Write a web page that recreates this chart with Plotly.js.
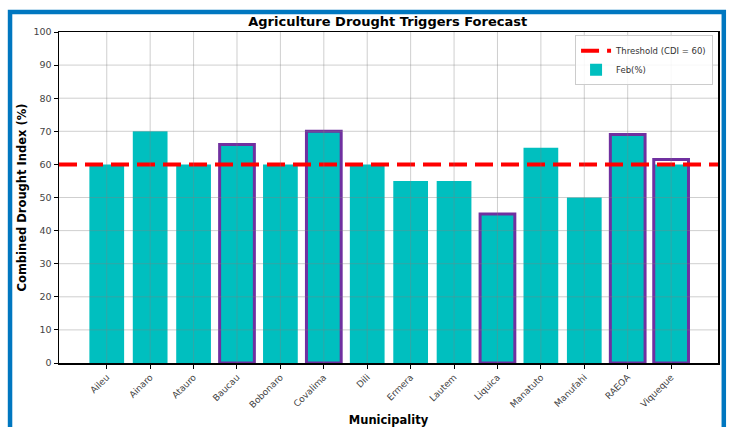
<!DOCTYPE html>
<html>
<head>
<meta charset="utf-8">
<script src="https://cdn.plot.ly/plotly-3.0.1.min.js"></script>
<style>html,body{margin:0;padding:0;background:#fff;}#chart{width:731px;height:427px;}</style>
</head>
<body>
<div id="chart"></div>
<script>
const municipalities = ["Aileu","Ainaro","Atauro","Baucau","Bobonaro","Covalima","Dili","Ermera","Lautem","Liquica","Manatuto","Manufahi","RAEOA","Viqueque"];
const febValues = [60,70,60,66,60,70,60,55,55,45,65,50,69,60];
const highlightValues = [null,null,null,66,null,70,null,null,null,45,null,null,69,61.5];
const threshold = 60;
const yTicks = [0,10,20,30,40,50,60,70,80,90,100];

const gridColor = "rgba(128,128,128,0.38)";
const shapes = [];
// blue frame
shapes.push({type:"rect", xref:"paper", yref:"paper", x0:-0.0743, x1:1.0088, y0:-0.3, y1:1.0604,
  line:{color:"#0077C0", width:4.5}, fillcolor:"rgba(0,0,0,0)", layer:"below"});
// grid lines drawn above bars
municipalities.forEach(m => shapes.push({type:"line", xref:"x", yref:"paper", x0:m, x1:m, y0:0, y1:1,
  line:{color:gridColor, width:1}, layer:"above"}));
yTicks.filter(t => t > 0 && t < 100 && t !== threshold).forEach(t => shapes.push({type:"line", xref:"paper", yref:"y", x0:0, x1:1, y0:t, y1:t,
  line:{color:gridColor, width:1}, layer:"above"}));

const traces = [
  {type:"scatter", mode:"lines", x:[0,1], y:[threshold,threshold], xaxis:"x2", yaxis:"y",
   name:"Threshold (CDI = 60)", line:{color:"#FF0000", width:4, dash:"18px,8px"}, hoverinfo:"skip"},
  {type:"bar", x:municipalities, y:febValues, name:"Feb(%)", width:0.8,
   marker:{color:"#00BFBF", line:{width:0}}},
  {type:"bar", x:municipalities, y:highlightValues, name:"highlight", width:0.8, showlegend:false,
   marker:{color:"rgba(0,0,0,0)", line:{color:"#7030A0", width:3}}}
];

const layout = {
  width:731, height:427,
  margin:{l:59, r:13, t:32, b:64},
  paper_bgcolor:"#ffffff", plot_bgcolor:"#ffffff",
  barmode:"overlay",
  font:{family:"DejaVu Sans", size:9, color:"#333"},
  title:{text:"<b>Agriculture Drought Triggers Forecast</b>", font:{family:"DejaVu Sans", size:13, color:"#000"},
    x:0.5304, xanchor:"center", y:0.949, yanchor:"middle"},
  xaxis:{type:"category", categoryorder:"array", categoryarray:municipalities, range:[-1.1,14.08],
    showgrid:false, zeroline:false, showline:true, mirror:true, linecolor:"#000", linewidth:1.5,
    ticks:"outside", ticklen:4, tickcolor:"#000", tickangle:-45, tickfont:{size:9, color:"#444"},
    automargin:false,
    title:{text:"<b>Municipality</b>", font:{size:11.5, color:"#000"}, standoff:9}},
  xaxis2:{overlaying:"x", range:[0,1], visible:false, showgrid:false, zeroline:false},
  yaxis:{range:[0,100], tickvals:yTicks, showgrid:false, zeroline:false, showline:true, mirror:true,
    linecolor:"#000", linewidth:1.5, ticks:"outside", ticklen:4, tickcolor:"#000",
    tickfont:{size:9.5, color:"#444"}, automargin:false,
    title:{text:"<b>Combined Drought Index (%)</b>", font:{size:11.5, color:"#000"}, standoff:4}},
  legend:{x:0.9925, xanchor:"right", y:0.99, yanchor:"top", bgcolor:"rgba(255,255,255,0.85)",
    bordercolor:"#cccccc", borderwidth:1, font:{size:8.5, color:"#333"}, tracegroupgap:0},
  showlegend:true,
  shapes:shapes
};

Plotly.newPlot("chart", traces, layout, {displayModeBar:false, staticPlot:true});
</script>
</body>
</html>
